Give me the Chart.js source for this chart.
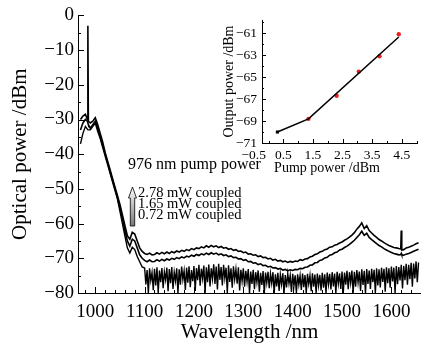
<!DOCTYPE html>
<html>
<head>
<meta charset="utf-8">
<script src="https://cdn.jsdelivr.net/npm/chart.js@4/dist/chart.umd.min.js"></script>
<style>
  body { margin: 0; background: #fff; }
  #wrap { position: relative; width: 428px; height: 347px; }
  #main { position: absolute; left: 0; top: 0; }
  #inset { position: absolute; left: 200px; top: 0; }
</style>
</head>
<body>
<div id="wrap">
  <canvas id="main" width="428" height="347"></canvas>
  <canvas id="inset" width="228" height="180"></canvas>
</div>
<script>
const wavelength = [
  970, 975, 980, 984, 985, 986, 990, 995, 1000, 1005, 1010, 1015,
  1020, 1025, 1030, 1035, 1040, 1045, 1050, 1055, 1060, 1065,
  1070, 1075, 1080, 1085, 1090, 1095, 1100, 1105, 1110, 1115,
  1120, 1125, 1130, 1135, 1140, 1145, 1150, 1155, 1160, 1165,
  1170, 1175, 1180, 1185, 1190, 1195, 1200, 1205, 1210, 1215,
  1220, 1225, 1230, 1235, 1240, 1245, 1250, 1255, 1260, 1265,
  1270, 1275, 1280, 1285, 1290, 1295, 1300, 1305, 1310, 1315,
  1320, 1325, 1330, 1335, 1340, 1345, 1350, 1355, 1360, 1365,
  1370, 1375, 1380, 1385, 1390, 1395, 1400, 1405, 1410, 1415,
  1420, 1425, 1430, 1435, 1440, 1445, 1450, 1455, 1460, 1465,
  1470, 1475, 1480, 1485, 1490, 1495, 1500, 1505, 1510, 1515,
  1520, 1525, 1530, 1535, 1540, 1545, 1550, 1555, 1560, 1565,
  1570, 1575, 1580, 1585, 1590, 1595, 1600, 1605, 1610, 1615,
  1619, 1620, 1621, 1625, 1630, 1635, 1640, 1645, 1650, 1655
];

// 2.78 mW coupled
const power278 = [
  -30, -29, -28.5, -30, -3, -30.5, -31, -30.5, -29.5, -31.5, -34, -36.5,
  -39.5, -42, -44.5, -47, -49.5, -52, -54.5, -57.5, -60.5, -63.5,
  -64.5, -62.5, -63, -65, -67, -68, -68.6, -68.9, -68.5, -69,
  -68.9, -68.4, -68.8, -68.3, -68.7, -68.2, -68.6, -68.1, -68.4, -67.9,
  -68.2, -67.7, -68, -67.5, -67.8, -67.2, -67.5, -67, -67.2, -66.7,
  -67, -66.4, -66.8, -66.3, -66.7, -66.4, -66.9, -66.6, -67.1, -66.9,
  -67.4, -67.2, -67.7, -67.5, -68, -67.9, -68.4, -68.2, -68.8, -68.7,
  -69.1, -69, -69.5, -69.3, -69.8, -69.7, -70.2, -70, -70.5, -70.3,
  -70.8, -70.6, -71, -70.8, -71.2, -70.9, -71.1, -70.8, -70.9, -70.4,
  -70.6, -70.2, -70.1, -69.6, -69.4, -68.9, -68.7, -68.2, -68, -67.5,
  -67.3, -66.8, -66.7, -66.2, -66, -65.6, -65.3, -64.8, -64.4, -63.9,
  -63.3, -62.6, -61.6, -60.8, -59.8, -61.4, -60.6, -62, -62.7, -63.4,
  -64, -64.6, -65, -65.5, -65.9, -66.3, -66.6, -66.9, -67, -67.2,
  -67.3, -62, -67.6, -67.5, -67, -66.8, -66.5, -66.2, -65.8, -65.5
];

// 1.65 mW coupled
const power165 = [
  -33, -31, -30, -30.5, -31, -31.5, -32.5, -31.5, -30.5, -32.5, -35, -37.5,
  -40, -42.5, -45, -47.5, -50, -52.5, -55.5, -58.5, -62, -65,
  -66.5, -64.5, -65, -67, -69, -70, -70.6, -71, -70.5, -71,
  -70.9, -70.4, -70.8, -70.3, -70.7, -70.2, -70.5, -70, -70.3, -69.8,
  -70.1, -69.6, -69.9, -69.4, -69.6, -69.1, -69.4, -68.9, -69.2, -68.7,
  -69, -68.5, -68.9, -68.4, -68.8, -68.5, -69, -68.7, -69.2, -69,
  -69.5, -69.3, -69.8, -69.7, -70.2, -70.1, -70.6, -70.4, -71, -70.9,
  -71.4, -71.3, -71.8, -71.6, -72.1, -72, -72.5, -72.3, -72.8, -72.7,
  -73.1, -72.9, -73.4, -73.2, -73.6, -73.3, -73.5, -73.2, -73.3, -72.9,
  -73, -72.6, -72.5, -72, -71.9, -71.3, -71.2, -70.6, -70.4, -69.9,
  -69.7, -69.1, -68.9, -68.4, -68.2, -67.6, -67.4, -66.9, -66.5, -66,
  -65.4, -64.8, -64, -63.2, -62.2, -63.4, -62.8, -64, -64.6, -65.2,
  -65.8, -66.3, -66.7, -67.2, -67.6, -68, -68.3, -68.6, -68.8, -69,
  -68.9, -68.6, -69, -69.1, -68.8, -68.6, -68.3, -68, -67.7, -67.4
];

// 0.72 mW coupled: smooth edge every 5 nm, then the noisy part every 2.5 nm
const edgeWavelength = [
  970, 975, 980, 985, 990, 995, 1000, 1005, 1010, 1015,
  1020, 1025, 1030, 1035, 1040, 1045, 1050, 1055, 1060, 1065,
  1070, 1075, 1080, 1085, 1090, 1095
];
const edgePower072 = [
  -37, -34, -32, -33, -33, -32, -31, -33.5, -35.5, -38,
  -40.5, -43, -45.5, -48, -50.5, -53, -56.5, -60, -63.5, -67,
  -68.5, -66.8, -67.5, -69.5, -71, -72.5
];
const noiseWavelength = [
  1100, 1102.5, 1105, 1107.5, 1110, 1112.5, 1115, 1117.5, 1120, 1122.5, 1125, 1127.5, 1130, 1132.5, 1135, 1137.5, 1140, 1142.5, 1145, 1147.5,
  1150, 1152.5, 1155, 1157.5, 1160, 1162.5, 1165, 1167.5, 1170, 1172.5, 1175, 1177.5, 1180, 1182.5, 1185, 1187.5, 1190, 1192.5, 1195, 1197.5,
  1200, 1202.5, 1205, 1207.5, 1210, 1212.5, 1215, 1217.5, 1220, 1222.5, 1225, 1227.5, 1230, 1232.5, 1235, 1237.5, 1240, 1242.5, 1245, 1247.5,
  1250, 1252.5, 1255, 1257.5, 1260, 1262.5, 1265, 1267.5, 1270, 1272.5, 1275, 1277.5, 1280, 1282.5, 1285, 1287.5, 1290, 1292.5, 1295, 1297.5,
  1300, 1302.5, 1305, 1307.5, 1310, 1312.5, 1315, 1317.5, 1320, 1322.5, 1325, 1327.5, 1330, 1332.5, 1335, 1337.5, 1340, 1342.5, 1345, 1347.5,
  1350, 1352.5, 1355, 1357.5, 1360, 1362.5, 1365, 1367.5, 1370, 1372.5, 1375, 1377.5, 1380, 1382.5, 1385, 1387.5, 1390, 1392.5, 1395, 1397.5,
  1400, 1402.5, 1405, 1407.5, 1410, 1412.5, 1415, 1417.5, 1420, 1422.5, 1425, 1427.5, 1430, 1432.5, 1435, 1437.5, 1440, 1442.5, 1445, 1447.5,
  1450, 1452.5, 1455, 1457.5, 1460, 1462.5, 1465, 1467.5, 1470, 1472.5, 1475, 1477.5, 1480, 1482.5, 1485, 1487.5, 1490, 1492.5, 1495, 1497.5,
  1500, 1502.5, 1505, 1507.5, 1510, 1512.5, 1515, 1517.5, 1520, 1522.5, 1525, 1527.5, 1530, 1532.5, 1535, 1537.5, 1540, 1542.5, 1545, 1547.5,
  1550, 1552.5, 1555, 1557.5, 1560, 1562.5, 1565, 1567.5, 1570, 1572.5, 1575, 1577.5, 1580, 1582.5, 1585, 1587.5, 1590, 1592.5, 1595, 1597.5,
  1600, 1602.5, 1605, 1607.5, 1610, 1612.5, 1615, 1617.5, 1620, 1622.5, 1625, 1627.5, 1630, 1632.5, 1635, 1637.5, 1640, 1642.5, 1645, 1647.5,
  1650, 1652.5, 1655
];
const noisePower072 = [
  -72.8, -77.5, -73.4, -80, -72.9, -76.4, -74.1, -79.2, -73, -77.8, -72.6, -80, -73.5, -76.9, -72.8, -78.6, -73.9, -76.2, -72.7, -79.5,
  -73.1, -77.2, -72.5, -78.8, -74, -76.5, -72.9, -80, -73.2, -77.6, -72.4, -76.1, -73.6, -79.1, -72.7, -77, -72.3, -78.3, -73.4, -76.6,
  -72.2, -79.4, -72.8, -76.3, -71.9, -77.9, -73, -75.8, -72.1, -80, -72.6, -76.9, -71.8, -78.1, -72.9, -75.9, -71.7, -77.4, -72.4, -79,
  -71.6, -76.2, -72.5, -77.8, -71.9, -75.7, -72.7, -80, -72, -76.8, -72.9, -78.5, -72.3, -76.1, -73.1, -77.3, -72.6, -79.3, -73.3, -76.6,
  -72.9, -78.2, -73.6, -76.7, -73.1, -80, -73.8, -77.4, -73.3, -78.9, -74, -76.9, -73.5, -79.6, -74.2, -77.7, -73.7, -80, -74.1, -77.1,
  -73.9, -78.6, -74.4, -77.2, -74, -80, -74.6, -78.1, -74.2, -79.4, -74.7, -77.5, -74.3, -80, -74.8, -78.4, -74.4, -77.3, -74.9, -79.7,
  -74.5, -78, -74.9, -80, -74.6, -77.6, -75, -79.1, -74.4, -78.3, -74.8, -80, -74.5, -77.4, -74.9, -79.5, -74.3, -78.2, -74.7, -80,
  -74.4, -77.8, -74.8, -79.3, -74.2, -78.5, -74.6, -80, -74.1, -77.5, -74.5, -79, -74, -78.1, -74.4, -80, -73.9, -77.3, -74.3, -78.8,
  -73.8, -80, -74.1, -77.6, -73.6, -78.9, -74, -77.1, -73.5, -80, -73.9, -78.2, -73.4, -77, -73.8, -79.4, -73.2, -77.7, -73.6, -80,
  -73.1, -77.4, -73.5, -78.8, -73, -76.9, -73.3, -80, -72.9, -77.8, -73.2, -78.4, -72.7, -76.8, -73, -79.6, -72.6, -77.2, -72.9, -78.5,
  -72.4, -76.7, -72.7, -80, -72.2, -77.5, -72.5, -76.4, -71.9, -78.7, -72.2, -76.3, -71.6, -77.6, -71.9, -76, -71.3, -78.2, -71.5, -75.8,
  -70.9, -76.9, -71.2
];

const xTicks = [980, 1000, 1020, 1040, 1060, 1080, 1100, 1120, 1140, 1160, 1180, 1200,
  1220, 1240, 1260, 1280, 1300, 1320, 1340, 1360, 1380, 1400, 1420, 1440, 1460, 1480,
  1500, 1520, 1540, 1560, 1580, 1600, 1620, 1640];
const yTicks = [-80, -75, -70, -65, -60, -55, -50, -45, -40, -35, -30, -25, -20, -15, -10, -5, 0];

// inset: output power vs pump power
const pumpPower = [0.3, 1.35, 2.3, 3.05, 3.75, 4.4];
const outputPower = [-70.0, -68.8, -66.7, -64.5, -63.1, -61.1];
const fitPump = [0.3, 1.35, 4.4];
const fitOutput = [-70.0, -68.8, -61.35];
const insetXTicks = [-0.5, 0, 0.5, 1, 1.5, 2, 2.5, 3, 3.5, 4, 4.5, 5];
const insetYTicks = [-71, -70, -69, -68, -67, -66, -65, -64, -63, -62, -61, -60];

const serif = "'Liberation Serif', 'Times New Roman', serif";
const minus = v => String(v).replace('-', '\u2212');
const pairs = (xs, ys) => xs.map((x, i) => ({ x: x, y: ys[i] }));

// axis lines with inward tick marks
function axisTicks(isMajorX, isMajorY, major, minor) {
  return {
    id: 'axisTicks',
    afterDraw(chart) {
      const { ctx, chartArea: a, scales: { x, y } } = chart;
      ctx.save();
      ctx.strokeStyle = '#000';
      ctx.lineWidth = 1;
      ctx.beginPath();
      ctx.moveTo(a.left + 0.5, a.top);
      ctx.lineTo(a.left + 0.5, a.bottom + 0.5);
      ctx.lineTo(a.right, a.bottom + 0.5);
      x.ticks.forEach(t => {
        if (t.value < x.min || t.value > x.max) return;
        const px = Math.round(x.getPixelForValue(t.value)) + 0.5;
        ctx.moveTo(px, a.bottom);
        ctx.lineTo(px, a.bottom - (isMajorX(t.value) ? major : minor));
      });
      y.ticks.forEach(t => {
        if (t.value < y.min || t.value > y.max) return;
        const py = Math.round(y.getPixelForValue(t.value)) + 0.5;
        ctx.moveTo(a.left, py);
        ctx.lineTo(a.left + (isMajorY(t.value) ? major : minor), py);
      });
      ctx.stroke();
      ctx.restore();
    }
  };
}

// text notes and the arrow
const notes = {
  id: 'notes',
  afterDraw(chart) {
    const ctx = chart.ctx;
    ctx.save();
    ctx.fillStyle = '#000';
    ctx.textBaseline = 'middle';
    ctx.font = '16px ' + serif;
    ctx.fillText('976 nm pump power', 128, 165);
    ctx.font = '14.5px ' + serif;
    ctx.fillText('2.78 mW coupled', 138, 193);
    ctx.fillText('1.65 mW coupled', 138, 204);
    ctx.fillText('0.72 mW coupled', 138, 215);

    const cx = 132.5, tip = 187, base = 198, bottom = 226, hw = 4, sw = 2.2;
    const g = ctx.createLinearGradient(0, tip, 0, bottom);
    g.addColorStop(0, '#fff');
    g.addColorStop(1, '#777');
    ctx.beginPath();
    ctx.moveTo(cx, tip);
    ctx.lineTo(cx + hw, base);
    ctx.lineTo(cx + sw, base);
    ctx.lineTo(cx + sw, bottom);
    ctx.lineTo(cx - sw, bottom);
    ctx.lineTo(cx - sw, base);
    ctx.lineTo(cx - hw, base);
    ctx.closePath();
    ctx.fillStyle = g;
    ctx.fill();
    ctx.strokeStyle = '#000';
    ctx.lineWidth = 0.8;
    ctx.stroke();
    ctx.restore();
  }
};

const lineStyle = { borderColor: '#000', borderWidth: 1.6, pointRadius: 0, fill: false, tension: 0 };

new Chart(document.getElementById('main'), {
  type: 'line',
  data: {
    datasets: [
      Object.assign({ data: pairs(wavelength, power278) }, lineStyle),
      Object.assign({ data: pairs(wavelength, power165) }, lineStyle),
      Object.assign({
        data: pairs(edgeWavelength, edgePower072).concat(pairs(noiseWavelength, noisePower072))
      }, lineStyle, { borderWidth: 1.4 })
    ]
  },
  options: {
    responsive: false,
    animation: false,
    layout: { padding: { left: 8, right: 7, top: 15, bottom: 2 } },
    plugins: { legend: { display: false }, tooltip: { enabled: false } },
    scales: {
      x: {
        type: 'linear', min: 965, max: 1660,
        afterBuildTicks: s => { s.ticks = xTicks.map(v => ({ value: v })); },
        afterFit: s => { s.height = 52; },
        grid: { display: false, drawTicks: false },
        border: { display: false },
        ticks: {
          autoSkip: false, maxRotation: 0, padding: 8, color: '#000',
          font: { family: serif, size: 19 },
          callback: v => (v % 100 === 0 ? String(v) : '')
        },
        title: { display: true, text: 'Wavelength /nm', color: '#000', padding: 0, font: { family: serif, size: 21 } }
      },
      y: {
        type: 'linear', min: -80, max: 0,
        afterBuildTicks: s => { s.ticks = yTicks.map(v => ({ value: v })); },
        afterFit: s => { s.width = 70; },
        grid: { display: false, drawTicks: false },
        border: { display: false },
        ticks: {
          autoSkip: false, padding: 4, color: '#000',
          font: { family: serif, size: 19 },
          callback: v => (v % 10 === 0 ? minus(v) : '')
        },
        title: { display: true, text: 'Optical power /dBm', color: '#000', padding: 0, font: { family: serif, size: 21 } }
      }
    }
  },
  plugins: [axisTicks(v => v % 100 === 0, v => v % 10 === 0, 6, 3), notes]
});

const insetTitle = {
  id: 'insetTitle',
  afterDraw(chart) {
    const ctx = chart.ctx;
    ctx.save();
    ctx.fillStyle = '#000';
    ctx.font = '14px ' + serif;
    ctx.textAlign = 'center';
    ctx.textBaseline = 'middle';
    ctx.fillText('Pump power /dBm', 127, 168);
    ctx.restore();
  }
};

new Chart(document.getElementById('inset'), {
  type: 'scatter',
  data: {
    datasets: [
      { type: 'line', data: pairs(fitPump, fitOutput), borderColor: '#000', borderWidth: 1.5, pointRadius: 0, tension: 0 },
      { data: pairs(pumpPower.slice(1), outputPower.slice(1)), pointBackgroundColor: '#e8221c', pointBorderWidth: 0, pointRadius: 2.2 },
      { data: pairs(pumpPower.slice(0, 1), outputPower.slice(0, 1)), pointStyle: 'rect', pointBackgroundColor: '#000', pointBorderWidth: 0, pointRadius: 2.2 }
    ]
  },
  options: {
    responsive: false,
    animation: false,
    layout: { padding: { left: 21, right: 10, top: 20, bottom: 0 } },
    plugins: { legend: { display: false }, tooltip: { enabled: false } },
    scales: {
      x: {
        type: 'linear', min: -0.22, max: 5.05,
        afterBuildTicks: s => { s.ticks = insetXTicks.map(v => ({ value: v })); },
        afterFit: s => { s.height = 37; },
        grid: { display: false, drawTicks: false },
        border: { display: false },
        ticks: {
          autoSkip: false, maxRotation: 0, padding: 4, color: '#000',
          font: { family: serif, size: 13.5 },
          callback: v => (Math.abs(v * 2) % 2 === 1 ? minus(v.toFixed(1)) : '')
        }
      },
      y: {
        type: 'linear', min: -71, max: -59.8,
        afterBuildTicks: s => { s.ticks = insetYTicks.map(v => ({ value: v })); },
        afterFit: s => { s.width = 41; },
        grid: { display: false, drawTicks: false },
        border: { display: false },
        ticks: {
          autoSkip: false, padding: 5, color: '#000',
          font: { family: serif, size: 13.5 },
          callback: v => (Math.abs(v) % 2 === 1 ? minus(v) : '')
        },
        title: { display: true, text: 'Output power /dBm', color: '#000', padding: 0, font: { family: serif, size: 14 } }
      }
    }
  },
  plugins: [axisTicks(v => Math.abs(v * 2) % 2 === 1, v => Math.abs(v) % 2 === 1, 4, 2), insetTitle]
});
</script>
</body>
</html>
